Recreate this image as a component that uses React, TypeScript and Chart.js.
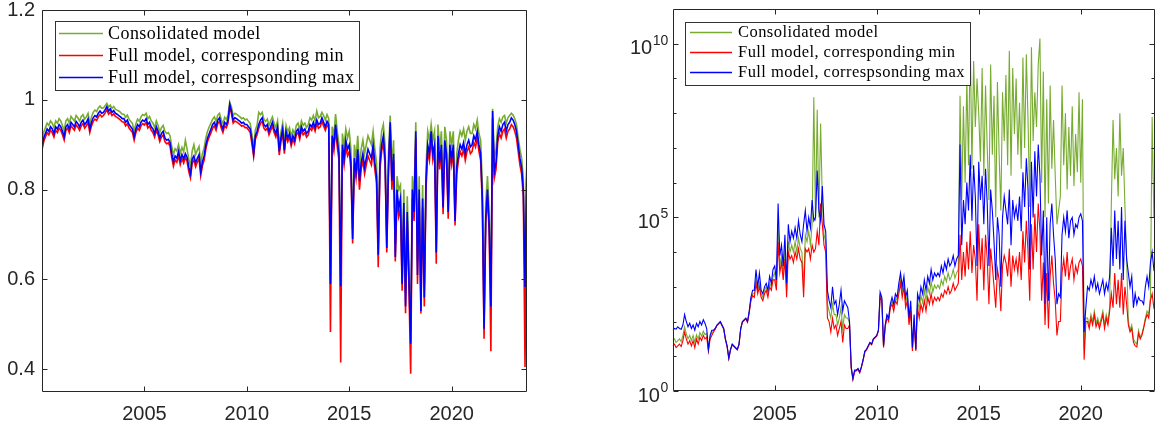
import React, { useEffect, useRef } from 'react';
import { Chart, registerables } from 'chart.js';

Chart.register(...registerables);

// ---------- time axis (monthly, 2000.0 .. 2023.67) ----------
const months: number[] = [];
for (let i = 0; i < 285; i++) months.push(2000 + i / 12);

const xTickYears = [2005, 2010, 2015, 2020];
const leftYTicks = [0.4, 0.6, 0.8, 1.0, 1.2];
const rightYMajor = [1, 1e5, 1e10];
const rightYMajorExp = ['0', '5', '10'];
const rightYMinor = [1e1, 1e2, 1e3, 1e4, 1e6, 1e7, 1e8, 1e9];

const legendLabels = [
  'Consolidated model',
  'Full model, corresponding min',
  'Full model, correspsonding max',
];
const seriesColors = ['#77AC30', '#FF0000', '#0000FF'];

// ---------- left panel values ----------
const leftMax = [
  0.895, 0.915, 0.925, 0.935, 0.93, 0.94, 0.935, 0.925, 0.94, 0.935, 0.945, 0.94,
  0.93, 0.918, 0.94, 0.945, 0.935, 0.95, 0.945, 0.94, 0.952, 0.947, 0.94, 0.95,
  0.955, 0.945, 0.95, 0.958, 0.935, 0.95, 0.96, 0.965, 0.962, 0.97, 0.975, 0.97,
  0.972, 0.978, 0.985, 0.975, 0.98, 0.972, 0.976, 0.97, 0.968, 0.965, 0.962, 0.958,
  0.958, 0.95, 0.955, 0.945, 0.94, 0.935, 0.918, 0.935, 0.945, 0.94, 0.95, 0.955,
  0.952, 0.958, 0.945, 0.95, 0.94, 0.935, 0.925, 0.94, 0.93, 0.915, 0.925, 0.93,
  0.915, 0.91, 0.912, 0.905, 0.88, 0.862, 0.875, 0.87, 0.885, 0.865, 0.878, 0.868,
  0.88, 0.872, 0.85, 0.835, 0.868, 0.875, 0.86, 0.87, 0.878, 0.84, 0.862, 0.875,
  0.9, 0.915, 0.925, 0.935, 0.945, 0.95, 0.94, 0.955, 0.96, 0.945, 0.935, 0.95,
  0.945, 0.955, 0.99, 0.975, 0.955, 0.96, 0.958, 0.955, 0.952, 0.948, 0.95, 0.945,
  0.945, 0.94, 0.935, 0.91, 0.88, 0.92, 0.93, 0.945, 0.955, 0.96, 0.945, 0.94,
  0.945, 0.93, 0.94, 0.95, 0.935, 0.925, 0.94, 0.885, 0.915, 0.935, 0.888, 0.93,
  0.915, 0.925, 0.905, 0.92, 0.91, 0.93, 0.935, 0.92, 0.94, 0.93, 0.935, 0.925,
  0.93, 0.945, 0.94, 0.95, 0.938, 0.955, 0.945, 0.948, 0.96, 0.95, 0.94, 0.952,
  0.945, 0.59, 0.92, 0.9, 0.945, 0.91, 0.88, 0.585, 0.9, 0.87, 0.91, 0.89,
  0.9, 0.86, 0.69, 0.87, 0.84, 0.89, 0.82, 0.86, 0.88, 0.85, 0.87, 0.89,
  0.88, 0.87, 0.9, 0.86, 0.83, 0.655, 0.86, 0.9, 0.92, 0.87, 0.67, 0.85,
  0.95, 0.82, 0.88, 0.65, 0.8, 0.76, 0.78, 0.59, 0.77, 0.54, 0.75, 0.6,
  0.457, 0.8, 0.75, 0.93, 0.61, 0.8, 0.53, 0.78, 0.56, 0.82, 0.9, 0.88,
  0.93, 0.88, 0.9, 0.66, 0.92, 0.86, 0.9, 0.76, 0.91, 0.88, 0.75, 0.9,
  0.87, 0.9, 0.73, 0.85, 0.88, 0.9, 0.89, 0.905, 0.88, 0.9, 0.91, 0.895,
  0.9, 0.92, 0.91, 0.93, 0.9, 0.88, 0.78, 0.49, 0.74, 0.8, 0.72, 0.54,
  0.975, 0.84, 0.86, 0.92, 0.94, 0.93, 0.945, 0.95, 0.93, 0.945, 0.95, 0.96,
  0.955, 0.945, 0.93, 0.9, 0.87, 0.85, 0.8, 0.583, 0.84,
];

const leftMin = [
  0.888, 0.907, 0.917, 0.927, 0.922, 0.932, 0.927, 0.917, 0.932, 0.927, 0.937, 0.932,
  0.922, 0.91, 0.932, 0.937, 0.927, 0.942, 0.937, 0.932, 0.944, 0.939, 0.932, 0.942,
  0.947, 0.937, 0.942, 0.95, 0.927, 0.942, 0.952, 0.957, 0.954, 0.962, 0.967, 0.962,
  0.965, 0.971, 0.978, 0.968, 0.973, 0.965, 0.969, 0.963, 0.961, 0.958, 0.955, 0.951,
  0.95, 0.942, 0.947, 0.937, 0.932, 0.927, 0.91, 0.927, 0.937, 0.932, 0.942, 0.947,
  0.944, 0.95, 0.937, 0.942, 0.932, 0.927, 0.917, 0.932, 0.922, 0.907, 0.917, 0.922,
  0.907, 0.902, 0.904, 0.897, 0.872, 0.852, 0.866, 0.861, 0.876, 0.856, 0.869, 0.859,
  0.871, 0.863, 0.84, 0.826, 0.859, 0.866, 0.851, 0.861, 0.869, 0.831, 0.853, 0.866,
  0.891, 0.907, 0.917, 0.927, 0.937, 0.942, 0.932, 0.947, 0.952, 0.937, 0.927, 0.942,
  0.938, 0.948, 0.985, 0.969, 0.948, 0.953, 0.951, 0.948, 0.945, 0.941, 0.943, 0.938,
  0.938, 0.933, 0.927, 0.902, 0.874, 0.912, 0.922, 0.937, 0.947, 0.952, 0.937, 0.932,
  0.937, 0.922, 0.932, 0.942, 0.927, 0.917, 0.932, 0.877, 0.907, 0.927, 0.88, 0.922,
  0.907, 0.917, 0.897, 0.912, 0.902, 0.922, 0.927, 0.912, 0.932, 0.922, 0.927, 0.917,
  0.922, 0.937, 0.932, 0.942, 0.93, 0.947, 0.937, 0.94, 0.952, 0.942, 0.932, 0.944,
  0.937, 0.483, 0.905, 0.885, 0.935, 0.895, 0.865, 0.415, 0.885, 0.855, 0.895, 0.875,
  0.885, 0.845, 0.68, 0.855, 0.825, 0.875, 0.8, 0.845, 0.865, 0.835, 0.855, 0.875,
  0.865, 0.855, 0.885, 0.845, 0.815, 0.627, 0.845, 0.885, 0.905, 0.855, 0.66, 0.835,
  0.94, 0.8, 0.865, 0.64, 0.78, 0.74, 0.76, 0.575, 0.75, 0.525, 0.73, 0.58,
  0.39, 0.78, 0.73, 0.915, 0.59, 0.78, 0.524, 0.76, 0.54, 0.8, 0.885, 0.865,
  0.915, 0.865, 0.885, 0.635, 0.905, 0.845, 0.885, 0.745, 0.895, 0.865, 0.735, 0.885,
  0.855, 0.885, 0.72, 0.835, 0.865, 0.885, 0.875, 0.89, 0.865, 0.885, 0.895, 0.88,
  0.885, 0.905, 0.895, 0.915, 0.885, 0.865, 0.765, 0.468, 0.725, 0.785, 0.705, 0.44,
  0.96, 0.825, 0.845, 0.905, 0.925, 0.915, 0.93, 0.935, 0.915, 0.93, 0.935, 0.945,
  0.94, 0.93, 0.915, 0.885, 0.855, 0.835, 0.785, 0.405, 0.825,
];

const leftConsolidated = [
  0.91, 0.928, 0.938, 0.948, 0.943, 0.953, 0.948, 0.938, 0.953, 0.948, 0.958, 0.953,
  0.943, 0.931, 0.953, 0.958, 0.948, 0.963, 0.958, 0.953, 0.965, 0.96, 0.953, 0.963,
  0.967, 0.957, 0.962, 0.97, 0.947, 0.962, 0.972, 0.977, 0.974, 0.982, 0.986, 0.981,
  0.982, 0.987, 0.992, 0.984, 0.988, 0.981, 0.985, 0.979, 0.977, 0.975, 0.972, 0.968,
  0.968, 0.961, 0.966, 0.957, 0.952, 0.947, 0.93, 0.947, 0.957, 0.952, 0.962, 0.967,
  0.965, 0.97, 0.958, 0.963, 0.953, 0.948, 0.938, 0.953, 0.943, 0.928, 0.938, 0.943,
  0.93, 0.925, 0.927, 0.92, 0.896, 0.878, 0.891, 0.886, 0.9, 0.881, 0.894, 0.884,
  0.91, 0.89, 0.868, 0.853, 0.886, 0.9, 0.878, 0.888, 0.896, 0.858, 0.88, 0.893,
  0.915, 0.93, 0.94, 0.948, 0.957, 0.962, 0.952, 0.966, 0.97, 0.956, 0.947, 0.961,
  0.956, 0.966, 0.995, 0.984, 0.965, 0.97, 0.968, 0.965, 0.962, 0.958, 0.96, 0.955,
  0.957, 0.952, 0.947, 0.923, 0.893, 0.933, 0.943, 0.972, 0.967, 0.972, 0.957, 0.952,
  0.957, 0.943, 0.953, 0.962, 0.948, 0.938, 0.953, 0.898, 0.928, 0.948, 0.9, 0.943,
  0.928, 0.938, 0.918, 0.933, 0.923, 0.943, 0.948, 0.933, 0.953, 0.943, 0.948, 0.938,
  0.945, 0.96, 0.955, 0.965, 0.953, 0.975, 0.96, 0.963, 0.972, 0.965, 0.955, 0.967,
  0.958, 0.6, 0.94, 0.92, 0.968, 0.93, 0.9, 0.6, 0.925, 0.895, 0.935, 0.915,
  0.93, 0.89, 0.71, 0.9, 0.87, 0.92, 0.85, 0.89, 0.91, 0.88, 0.9, 0.92,
  0.91, 0.9, 0.93, 0.89, 0.86, 0.68, 0.89, 0.93, 0.945, 0.9, 0.7, 0.88,
  0.965, 0.85, 0.91, 0.68, 0.83, 0.8, 0.81, 0.62, 0.8, 0.57, 0.785, 0.63,
  0.48, 0.83, 0.78, 0.95, 0.64, 0.83, 0.56, 0.81, 0.59, 0.85, 0.93, 0.91,
  0.945, 0.91, 0.93, 0.69, 0.945, 0.89, 0.93, 0.79, 0.94, 0.91, 0.78, 0.93,
  0.9, 0.93, 0.76, 0.88, 0.91, 0.93, 0.92, 0.935, 0.91, 0.93, 0.94, 0.925,
  0.925, 0.945, 0.935, 0.955, 0.925, 0.91, 0.81, 0.52, 0.77, 0.83, 0.75, 0.57,
  0.98, 0.87, 0.89, 0.94, 0.958, 0.95, 0.962, 0.965, 0.948, 0.96, 0.965, 0.97,
  0.966, 0.958, 0.945, 0.915, 0.89, 0.87, 0.825, 0.6, 0.86,
];

// ---------- right panel values (read as powers of ten: value = 10^exponent) ----------
const rightMaxExp = [
  1.75, 1.8, 1.78, 1.85, 1.8, 1.78, 1.9, 2.2, 2.0, 1.85, 1.95, 1.8,
  1.9, 1.75, 1.95, 1.85, 2.0, 1.9, 2.05, 1.95, 1.8, 1.2, 1.6, 1.75,
  1.75, 1.8, 1.9, 1.95, 2.0, 1.9, 1.8, 1.5, 1.3, 0.95, 1.2, 1.35,
  1.3, 1.25, 1.2, 1.35, 1.8, 2.0, 2.05, 2.1, 2.0, 2.3, 2.7, 2.9,
  2.9, 3.5, 3.0, 3.4, 2.9, 2.8, 3.0, 3.1, 2.9, 3.3, 3.1, 3.5,
  3.6, 3.2, 5.4, 3.9, 4.2, 3.6, 4.5, 3.1, 4.8, 4.3, 4.6, 4.4,
  4.7, 4.4, 4.9, 4.5, 4.3, 4.8, 5.2, 4.6, 5.0, 4.7, 5.5, 4.9,
  5.0, 6.35, 5.2, 4.9, 5.9, 4.8, 4.6, 2.9, 2.6, 2.4, 3.0, 2.5,
  2.6, 2.2, 2.5, 2.9, 2.3, 2.6, 2.5, 2.4, 2.0, 0.7, 0.36, 0.6,
  0.6, 0.65, 0.55, 0.7, 0.9, 1.15, 1.2, 1.3, 1.4, 1.35, 1.5, 1.55,
  1.6, 1.75, 2.85, 2.7, 1.3, 1.9, 2.2, 2.1, 2.5, 2.7, 2.5, 2.8,
  2.7, 3.1, 3.4, 3.0, 3.3, 2.7, 2.9, 2.1, 2.6, 1.25, 2.2, 1.2,
  2.8, 2.6, 3.0, 2.8, 3.2, 2.9, 3.3, 3.1, 3.5, 3.2, 3.4, 3.3,
  3.4, 3.3, 3.6, 3.4, 3.7, 3.5, 3.8, 3.6, 3.7, 3.9, 3.6, 3.8,
  3.9, 7.1, 4.2, 5.5, 4.8, 6.0, 5.2, 6.8, 4.9, 6.5, 5.6, 3.6,
  6.6, 5.5, 6.2, 4.8, 6.4, 5.4, 3.6, 5.8, 5.2, 4.3, 3.2, 5.0,
  4.5, 3.0, 5.0, 5.6, 5.2, 4.8, 5.8, 4.2, 5.5, 5.0, 5.3, 4.9,
  5.6, 4.6, 6.3, 5.3, 6.7, 5.8, 3.5, 6.6, 5.0, 6.9, 5.6, 7.1,
  6.2, 3.9, 5.2, 2.5, 5.0, 2.6, 4.8, 5.4, 4.5, 3.8, 2.5, 2.8,
  2.7, 4.5, 5.0, 4.6, 5.2, 4.4, 4.9, 5.0, 4.5, 4.8, 4.7, 5.0,
  5.1, 4.9, 1.7, 2.4, 3.0, 2.9, 3.2, 3.0, 3.3, 2.9, 3.1, 2.8,
  3.0, 3.2, 2.8, 3.1, 2.9, 3.3, 4.7, 3.6, 5.2, 3.8, 4.9, 3.5,
  5.3, 3.2, 4.9, 3.8, 3.4, 3.0, 3.3, 2.4, 2.8, 2.5, 2.7, 2.6,
  2.6, 2.5, 3.0, 3.3, 3.0, 3.7, 4.0, 3.5, 3.6,
];

const rightMinExp = [
  1.3, 1.35, 1.25, 1.3, 1.35, 1.28, 1.45, 1.7, 1.5, 1.35, 1.45, 1.3,
  1.45, 1.25, 1.5, 1.35, 1.55, 1.45, 1.6, 1.5, 1.55, 1.15, 1.5, 1.6,
  1.7, 1.78, 1.88, 1.93, 1.98, 1.88, 1.78, 1.48, 1.28, 0.93, 1.18, 1.33,
  1.28, 1.23, 1.18, 1.33, 1.78, 1.98, 2.03, 2.08, 1.98, 2.25, 2.6, 2.75,
  2.7, 3.1, 2.8, 3.0, 2.7, 2.6, 2.8, 2.9, 2.7, 3.0, 2.9, 3.2,
  3.2, 2.9, 4.3, 3.4, 3.7, 3.2, 3.8, 2.7, 4.0, 3.8, 3.9, 3.7,
  4.0, 3.8, 4.1, 3.8, 3.7, 2.7, 4.1, 4.0, 4.1, 3.8, 4.2, 4.0,
  4.1, 4.6, 4.2, 5.4, 4.8, 4.2, 4.0, 2.1, 2.0, 1.7, 2.1, 1.8,
  1.9, 1.6, 1.8, 2.0, 1.4, 1.9, 1.8, 1.8, 1.9, 0.65, 0.33, 0.55,
  0.58, 0.62, 0.52, 0.68, 0.88, 1.12, 1.18, 1.28, 1.38, 1.33, 1.48, 1.53,
  1.58, 1.73, 2.7, 2.6, 1.25, 1.85, 2.1, 2.0, 2.4, 2.5, 2.3, 2.6,
  2.5, 2.8, 3.1, 2.7, 3.0, 2.4, 2.6, 1.9, 2.3, 1.15, 2.0, 1.15,
  2.4, 2.1, 2.5, 2.3, 2.6, 2.3, 2.7, 2.5, 2.8, 2.5, 2.7, 2.6,
  2.7, 2.6, 2.8, 2.7, 2.9, 2.8, 3.0, 2.8, 2.9, 3.1, 2.9, 3.0,
  3.1, 4.5, 3.2, 4.0, 3.3, 4.3, 3.5, 4.6, 3.4, 4.2, 3.8, 2.6,
  4.8, 3.5, 4.4, 2.9, 4.5, 3.8, 2.5, 4.1, 3.6, 3.0, 2.4, 3.5,
  3.2, 2.3, 3.6, 3.9, 3.7, 3.3, 4.1, 3.0, 3.9, 3.5, 3.8, 3.4,
  4.0, 3.2, 4.6, 3.7, 4.9, 4.0, 2.6, 4.8, 3.5, 5.1, 4.0, 5.4,
  4.6, 2.6, 3.7, 1.9, 3.4, 1.8, 3.3, 3.9, 3.1, 2.6, 1.6, 2.0,
  2.0, 3.4, 3.8, 3.3, 4.0, 3.2, 3.6, 3.8, 3.2, 3.6, 3.4, 3.7,
  3.8, 3.6, 0.9, 2.0, 2.0, 1.8, 2.1, 1.9, 2.2, 1.85, 2.0, 1.8,
  2.0, 2.2, 1.8, 2.1, 1.9, 2.3, 2.8, 2.4, 3.4, 2.5, 3.2, 2.4,
  3.4, 2.2, 3.0, 2.5, 1.9, 1.7, 1.8, 1.4, 1.3, 1.27, 1.66, 1.5,
  1.6, 1.8, 2.04, 2.2, 2.1, 2.6, 2.8, 2.4, 2.5,
];

const rightConsolidatedExp = [
  1.45, 1.5, 1.4, 1.45, 1.5, 1.42, 1.6, 1.85, 1.65, 1.5, 1.6, 1.45,
  1.6, 1.4, 1.62, 1.5, 1.68, 1.58, 1.72, 1.62, 1.66, 1.18, 1.55, 1.68,
  1.72, 1.79, 1.89, 1.94, 1.99, 1.89, 1.79, 1.49, 1.29, 0.94, 1.19, 1.34,
  1.29, 1.24, 1.19, 1.34, 1.79, 1.99, 2.04, 2.09, 1.99, 2.27, 2.65, 2.8,
  2.8, 3.2, 2.9, 3.1, 2.8, 2.7, 2.9, 3.0, 2.8, 3.1, 3.0, 3.3,
  3.4, 3.0, 4.8, 3.6, 3.9, 3.4, 4.1, 2.9, 4.3, 4.0, 4.2, 4.0,
  4.3, 4.0, 4.4, 4.1, 4.0, 3.0, 4.5, 4.3, 4.6, 4.2, 4.8, 8.46,
  4.9, 8.1, 5.0, 7.7, 5.5, 4.5, 4.3, 2.5, 2.3, 2.1, 2.5, 2.2,
  2.2, 1.9, 2.1, 2.4, 1.8, 2.2, 2.1, 2.1, 1.95, 0.68, 0.35, 0.58,
  0.59, 0.63, 0.53, 0.69, 0.89, 1.13, 1.19, 1.29, 1.39, 1.34, 1.49, 1.54,
  1.59, 1.74, 2.75, 2.65, 1.28, 1.88, 2.15, 2.05, 2.45, 2.6, 2.4, 2.7,
  2.6, 2.95, 3.25, 2.85, 3.15, 2.55, 2.75, 2.0, 2.45, 1.2, 2.1, 1.18,
  2.6, 2.35, 2.75, 2.55, 2.9, 2.6, 3.0, 2.8, 3.15, 2.85, 3.05, 2.95,
  3.05, 2.95, 3.2, 3.05, 3.3, 3.15, 3.4, 3.2, 3.3, 3.5, 3.25, 3.4,
  3.5, 8.5, 5.5, 8.2, 6.0, 9.0, 6.5, 10.2, 6.4, 9.5, 7.6, 9.0,
  8.0, 6.6, 9.3, 6.2, 8.8, 7.0, 5.5, 9.4, 6.8, 8.5, 5.0, 8.9,
  6.8, 5.2, 8.6, 7.2, 9.1, 6.5, 9.8, 6.2, 9.3, 7.4, 9.0, 6.8,
  8.3, 6.4, 9.6, 7.0, 9.7, 7.8, 5.3, 9.9, 7.2, 8.6, 7.6, 9.4,
  10.15, 6.0, 9.2, 5.0, 8.4, 5.4, 8.8, 6.4, 7.8, 6.2, 4.8, 5.2,
  5.6, 8.8, 6.5, 8.0, 5.8, 7.6, 6.2, 8.2, 5.9, 7.4, 6.3, 8.6,
  6.0, 8.4, 1.2, 2.1, 2.1, 1.9, 2.2, 2.0, 2.3, 1.95, 2.1, 1.9,
  2.1, 2.3, 1.9, 2.2, 2.0, 2.4, 5.4, 7.8, 6.1, 7.0, 5.6, 8.0,
  6.2, 7.0, 5.3, 3.8, 2.0, 1.75, 1.9, 1.5, 1.4, 1.35, 1.75, 1.55,
  1.65, 1.85, 2.1, 2.3, 2.2, 2.7, 7.9, 5.0, 5.0,
];

const AXIS = '#262626';
const TICK_FONT = '"Liberation Sans", Arial, sans-serif';
const LEGEND_FONT = '"Liberation Serif", "Times New Roman", serif';

type LegendBox = { x0: number; y0: number; x1: number; y1: number; lineX0: number; lineX1: number; textX: number; rows: number[]; size: number; spacing: number };
type PanelCfg = { logY: boolean; legend: LegendBox };

function makePlugin(cfg: PanelCfg) {
  return {
    id: 'matlabAxes',
    afterDatasetsDraw(chart: any) {
      const { ctx, chartArea: a, scales } = chart;
      const xs = scales.x;
      const ys = scales.y;
      ctx.save();
      ctx.globalAlpha = 1;
      ctx.setLineDash([]);
      const L = Math.round(a.left) + 0.5;
      const R = Math.round(a.right) - 0.5;
      const T = Math.round(a.top) + 0.5;
      const B = Math.round(a.bottom) - 0.5;
      ctx.strokeStyle = AXIS;
      ctx.lineWidth = 1;
      ctx.beginPath();
      ctx.rect(L, T, R - L, B - T);
      for (const v of xTickYears) {
        const px = Math.round(xs.getPixelForValue(v)) + 0.5;
        ctx.moveTo(px, B); ctx.lineTo(px, B - 5);
        ctx.moveTo(px, T); ctx.lineTo(px, T + 5);
      }
      const majors = cfg.logY ? rightYMajor : leftYTicks;
      for (const v of majors) {
        const py = Math.round(ys.getPixelForValue(v)) + 0.5;
        ctx.moveTo(L, py); ctx.lineTo(L + 5, py);
        ctx.moveTo(R, py); ctx.lineTo(R - 5, py);
      }
      if (cfg.logY) {
        for (const v of rightYMinor) {
          const py = Math.round(ys.getPixelForValue(v)) + 0.5;
          ctx.moveTo(L, py); ctx.lineTo(L + 3, py);
          ctx.moveTo(R, py); ctx.lineTo(R - 3, py);
        }
      }
      ctx.stroke();

      // superscript y labels for the log panel
      if (cfg.logY) {
        ctx.fillStyle = AXIS;
        rightYMajor.forEach((v, i) => {
          const py = ys.getPixelForValue(v);
          ctx.font = `14px ${TICK_FONT}`;
          const supW = ctx.measureText(rightYMajorExp[i]).width;
          const baseRight = a.left - 5 - supW;
          ctx.textAlign = 'right';
          ctx.textBaseline = 'middle';
          ctx.font = `20px ${TICK_FONT}`;
          ctx.fillText('10', baseRight, py + 5);
          ctx.textAlign = 'left';
          ctx.font = `14px ${TICK_FONT}`;
          ctx.fillText(rightYMajorExp[i], baseRight + 0.5, py - 3);
        });
      }

      // legend box
      const lg = cfg.legend;
      ctx.fillStyle = '#ffffff';
      ctx.fillRect(lg.x0, lg.y0, lg.x1 - lg.x0, lg.y1 - lg.y0);
      ctx.strokeStyle = '#333333';
      ctx.lineWidth = 1;
      ctx.strokeRect(Math.round(lg.x0) + 0.5, Math.round(lg.y0) + 0.5, Math.round(lg.x1 - lg.x0), Math.round(lg.y1 - lg.y0));
      // legend samples in the series colours
      for (let i = 0; i < legendLabels.length; i++) {
        ctx.fillStyle = seriesColors[i];
        ctx.fillRect(Math.round(lg.lineX0), Math.round(lg.rows[i]) - 0.25, Math.round(lg.lineX1 - lg.lineX0), 1.5);
      }
      // legend texts
      ctx.fillStyle = '#000000';
      ctx.font = `${lg.size}px ${LEGEND_FONT}`;
      ctx.textAlign = 'left';
      ctx.textBaseline = 'middle';
      (ctx as any).letterSpacing = `${lg.spacing}px`;
      for (let i = 0; i < legendLabels.length; i++) {
        ctx.fillText(legendLabels[i], lg.textX, lg.rows[i] + 1);
      }
      (ctx as any).letterSpacing = '0px';
      ctx.restore();
    },
  };
}

function makeChart(canvas: HTMLCanvasElement, panel: 'left' | 'right') {
  const isLog = panel === 'right';
  const g = isLog ? rightConsolidatedExp.map((e) => Math.pow(10, e)) : leftConsolidated;
  const r = isLog ? rightMinExp.map((e) => Math.pow(10, e)) : leftMin;
  const b = isLog ? rightMaxExp.map((e) => Math.pow(10, e)) : leftMax;
  const toPts = (vals: number[]) => vals.map((v, i) => ({ x: months[i], y: v }));
  const series = [g, r, b];
  const datasets = series.map((vals, i) => ({
    label: legendLabels[i],
    data: toPts(vals),
    borderColor: seriesColors[i],
    backgroundColor: seriesColors[i],
    borderWidth: isLog ? 1.1 : 1.6,
    pointRadius: 0,
    tension: 0,
    fill: false,
    order: 3 - i,
  }));

  const off = isLog ? 578 : 0;
  const legend: LegendBox = isLog
    ? { x0: 685 - off, y0: 22, x1: 970 - off, y1: 85, lineX0: 690 - off, lineX1: 732 - off, textX: 738 - off, rows: [32, 52, 72], size: 16.5, spacing: 0.45 }
    : { x0: 55, y0: 21, x1: 359, y1: 90, lineX0: 59, lineX1: 103, textX: 108, rows: [33, 55, 77], size: 18, spacing: 0.45 };

  const zeroPadX = (s: any, h: number) => { s.height = h; s.paddingLeft = 0; s.paddingRight = 0; s.paddingTop = 0; s.paddingBottom = 0; };
  const zeroPadY = (s: any, w: number) => { s.width = w; s.paddingLeft = 0; s.paddingRight = 0; s.paddingTop = 0; s.paddingBottom = 0; };

  return new Chart(canvas, {
    type: 'line',
    data: { datasets },
    options: {
      animation: false,
      responsive: false,
      devicePixelRatio: 1,
      events: [],
      layout: {
        autoPadding: false,
        padding: isLog ? { top: 9, right: 1, left: 0, bottom: 0 } : { top: 10, right: 51, left: 0, bottom: 0 },
      },
      plugins: { legend: { display: false }, tooltip: { enabled: false } },
      scales: {
        x: {
          type: 'linear',
          min: 2000,
          max: isLog ? 2023.64 : 2023.68,
          afterBuildTicks: (s: any) => { s.ticks = xTickYears.map((v) => ({ value: v })); },
          afterFit: (s: any) => zeroPadX(s, isLog ? 38 : 37.3),
          grid: { display: false, drawTicks: false },
          border: { display: false },
          ticks: {
            autoSkip: false,
            maxRotation: 0,
            padding: 11,
            color: AXIS,
            font: { family: TICK_FONT, size: 20 },
            callback: (v: any) => String(v),
          },
        },
        y: isLog
          ? {
              type: 'logarithmic',
              min: 1,
              max: 1e11,
              afterFit: (s: any) => zeroPadY(s, 94.7),
              grid: { display: false, drawTicks: false },
              border: { display: false },
              ticks: { display: false },
            }
          : {
              type: 'linear',
              min: 0.35,
              max: 1.2,
              afterBuildTicks: (s: any) => { s.ticks = leftYTicks.map((v) => ({ value: v })); },
              afterFit: (s: any) => zeroPadY(s, 42),
              grid: { display: false, drawTicks: false },
              border: { display: false },
              ticks: {
                padding: 7,
                color: AXIS,
                font: { family: TICK_FONT, size: 20 },
                callback: (v: any) => (Math.abs(v - 1) < 1e-9 ? '1' : Number(v).toFixed(1)),
              },
            },
      },
    } as any,
    plugins: [makePlugin({ logY: isLog, legend })],
  });
}

export default function App() {
  const leftRef = useRef<HTMLCanvasElement | null>(null);
  const rightRef = useRef<HTMLCanvasElement | null>(null);

  useEffect(() => {
    const c1 = makeChart(leftRef.current as HTMLCanvasElement, 'left');
    const c2 = makeChart(rightRef.current as HTMLCanvasElement, 'right');
    return () => {
      c1.destroy();
      c2.destroy();
    };
  }, []);

  return (
    <div style={{ position: 'absolute', left: 0, top: 0, width: 1156, height: 429, background: '#ffffff', overflow: 'hidden' }}>
      <canvas ref={leftRef} width={578} height={429} style={{ position: 'absolute', left: 0, top: 0, width: 578, height: 429, display: 'block' }} />
      <canvas ref={rightRef} width={578} height={429} style={{ position: 'absolute', left: 578, top: 0, width: 578, height: 429, display: 'block' }} />
    </div>
  );
}
